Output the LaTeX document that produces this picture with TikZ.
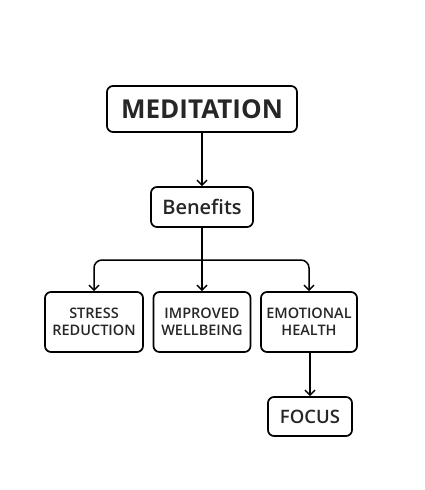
\documentclass[tikz,border=0pt]{standalone}
\usepackage{fontspec}
\setmainfont{Open Sans}[UprightFont={* Semibold}, BoldFont={* Bold}]
\usetikzlibrary{arrows.meta,positioning}
\tikzset{
  box/.style={draw, line width=1.7pt, rounded corners=6pt, align=center, text=black!85, inner sep=0pt},
  link/.style={line width=1.5pt, -{Straight Barb[length=5pt,width=10pt]}},
  smalltext/.style={font=\fontsize{14.5}{17}\selectfont}
}

\begin{document}
\begin{tikzpicture}[x=1pt,y=-1pt]
		%%%%% START %%%%%
		\useasboundingbox (0,0) rectangle (425,490);
		
		\node[box, minimum width=190pt, minimum height=46pt, font=\fontsize{26}{30}\selectfont\bfseries] (med) at (202,109) {MEDITATION};
		\node[box, minimum width=102pt, minimum height=40pt, font=\fontsize{20}{22}\selectfont] (ben) at (202,207) {Benefits};
		
		\node[box, smalltext, minimum width=98pt, minimum height=60pt] (stress) at (94,322) {STRESS\\REDUCTION};
		\node[box, smalltext, minimum width=97pt, minimum height=60pt] (well) at (202,322) {IMPROVED\\WELLBEING};
		\node[box, smalltext, minimum width=96pt, minimum height=60pt] (emo) at (309,322) {EMOTIONAL\\HEALTH};
		\node[box, minimum width=84pt, minimum height=39pt, font=\fontsize{18.5}{20}\selectfont] (focus) at (310,416.5) {FOCUS};
		
		\coordinate (split) at (202,260);
		
		\draw[link] (med) -- (ben);
		\draw[line width=1.5pt] (ben) -- (split);
		\draw[link] (split) -- (well);
		\draw[link, rounded corners=8pt] (split) -| (stress.north);
		\draw[link, rounded corners=8pt] (split) -| (emo.north);
		\draw[link] (emo.south -| focus.north) -- (focus.north);
		
		%%%%% END %%%%%
\end{tikzpicture}
\end{document}
